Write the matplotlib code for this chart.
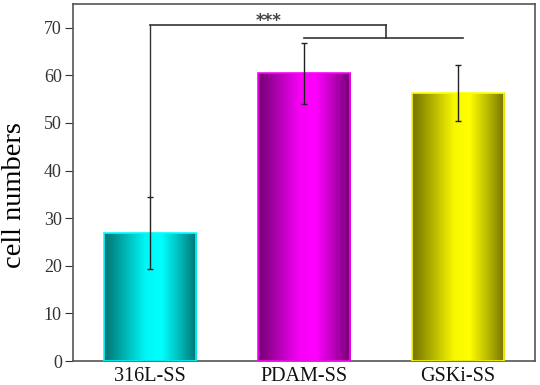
import numpy as np
import matplotlib.pyplot as plt
from matplotlib.colors import to_rgb

groups = ['316L-SS', 'PDAM-SS', 'GSKi-SS']
means = [26.9, 60.4, 56.3]
errors = [7.5, 6.4, 5.9]
colors = ['#00ffff', '#ff00ff', '#ffff00']

# significance bracket (data units)
sig_top = 70.6
sig_low = 67.9
sig_label = '***'

plt.rcParams['font.family'] = ['Liberation Serif', 'DejaVu Serif']


def gradient_bar(ax, bar, color):
    x0, y0 = bar.get_x(), bar.get_y()
    w, h = bar.get_width(), bar.get_height()
    t = np.linspace(0, 1, 256)
    # cylinder-like shading: dark edges, bright middle
    shade = np.interp(t, [0, 0.15, 0.45, 0.62, 0.8, 1.0], [0.45, 0.62, 0.97, 1.0, 0.75, 0.45])
    rgb = np.array(to_rgb(color))
    img = (shade[:, None] * rgb[None, :])[None, :, :]
    im = ax.imshow(img, extent=[x0, x0 + w, y0, y0 + h], aspect='auto', zorder=2,
                   interpolation='bilinear')
    im.set_clip_path(bar)


fig, ax = plt.subplots(figsize=(5.4, 3.85), dpi=100)
fig.subplots_adjust(left=0.135, right=0.991, top=0.99, bottom=0.062)

x = np.arange(len(groups))
bars = ax.bar(x, means, width=0.6, color='none', edgecolor=colors, linewidth=1.2, zorder=3)
for b, c in zip(bars, colors):
    gradient_bar(ax, b, c)

ax.errorbar(x, means, yerr=errors, fmt='none', ecolor='#222222', elinewidth=1,
            capsize=2.5, capthick=1, zorder=4)

# bracket
lc = '#333333'
ax.plot([x[0], x[0]], [means[0] + errors[0], sig_top], color=lc, lw=1, zorder=4)
mid = (x[1] + x[2]) / 2 + 0.03
ax.plot([x[0], mid], [sig_top, sig_top], color=lc, lw=1.2, zorder=4)
ax.plot([mid, mid], [sig_top, sig_low], color=lc, lw=1.2, zorder=4)
ax.plot([x[1], x[2] + 0.03], [sig_low, sig_low], color=lc, lw=1.2, zorder=4)
ax.text(0.77, sig_top - 0.3, sig_label, ha='center', va='baseline', fontsize=12,
        color='#444444', fontweight='bold', family='DejaVu Sans')

ax.set_xlim(-0.5, 2.5)
ax.set_ylim(0, 75)
ax.set_yticks(range(0, 71, 10))
ax.set_xticks(x)
ax.set_xticklabels(groups)
ax.tick_params(axis='y', direction='out', length=6, labelsize=13, colors='#333333', pad=2)
ax.tick_params(axis='x', length=0, labelsize=14.5, pad=4, colors='#111111')
ax.set_ylabel('cell numbers', fontsize=20.5)
ax.yaxis.set_label_coords(-0.1, 0.464)
for s in ax.spines.values():
    s.set_color('#555555')
    s.set_linewidth(1.2)

fig.savefig('out.png', dpi=100)
